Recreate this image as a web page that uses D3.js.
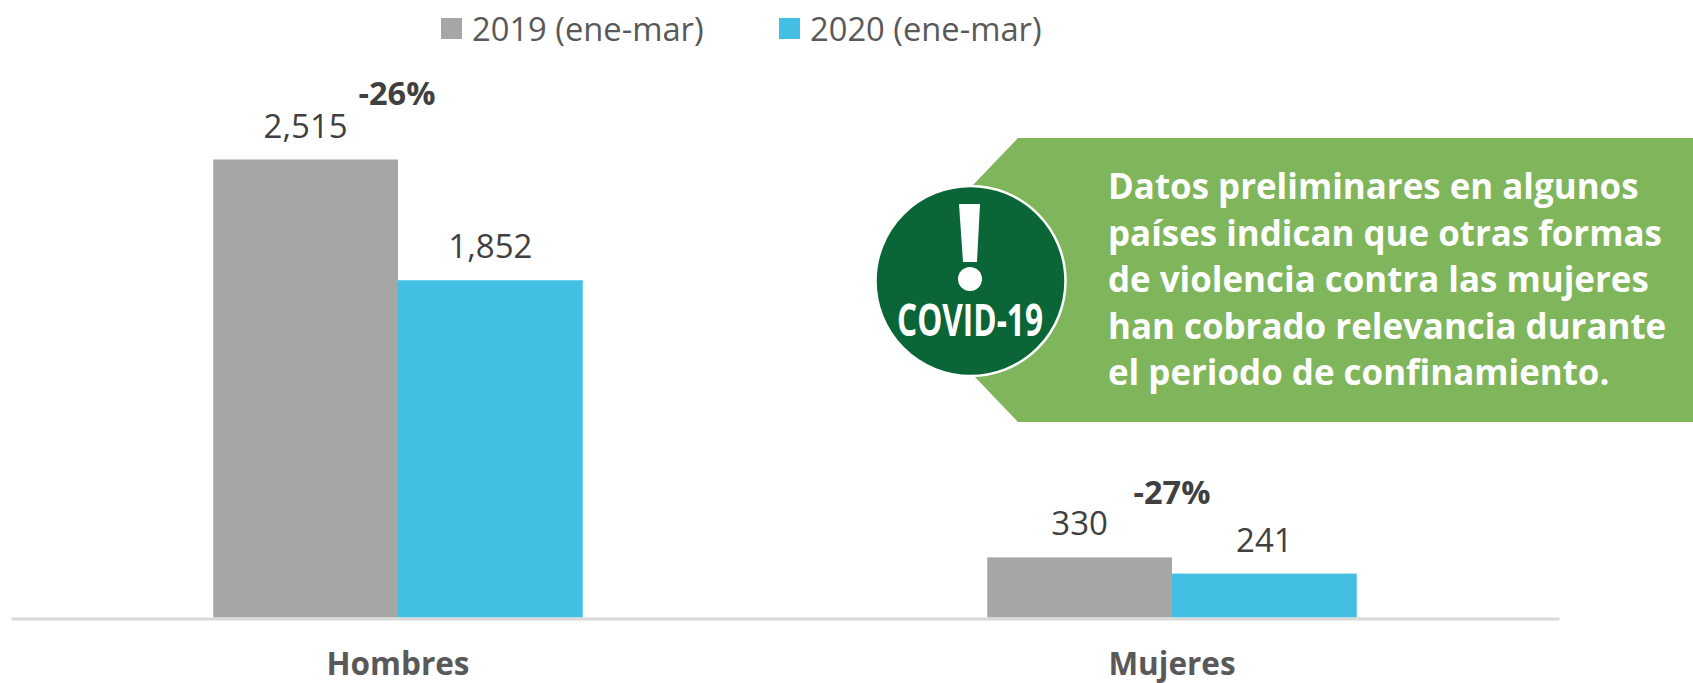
<!DOCTYPE html>
<html><head><meta charset="utf-8">
<script src="https://cdnjs.cloudflare.com/ajax/libs/d3/7.8.5/d3.min.js"></script>
<style>html,body{margin:0;padding:0;background:#fff}svg{display:block}text{font-family:"Open Sans",sans-serif}</style>
</head><body><svg id="c" width="1693" height="683"></svg>
<script>
const categories = ["Hombres","Mujeres"];
const seriesNames = ["2019 (ene-mar)","2020 (ene-mar)"];
const values2019 = [2515,330];
const values2020 = [1852,241];
const changes = ["-26%","-27%"];
const calloutLines = ["Datos preliminares en algunos","países indican que otras formas","de violencia contra las mujeres","han cobrado relevancia durante","el periodo de confinamiento."];
const colors = ["#a6a6a6","#43bfe3"];

const svg = d3.select("#c");
const x0 = d3.scaleBand().domain(categories).range([11,1559]).paddingInner(0).paddingOuter(0);
const x1 = d3.scaleBand().domain([0,1]).range([x0.bandwidth()*0.2613,x0.bandwidth()*0.7387]);
const y = d3.scaleLinear().domain([0,2515]).range([617.5,159.5]);
const series = [values2019,values2020];
const textCol = "#404040";
const fmt = d3.format(",");

// bars
series.forEach((vals,s)=>{
  svg.append("g").selectAll("rect").data(vals).join("rect")
    .attr("x",(d,i)=>x0(categories[i])+x1(s)).attr("width",x1.bandwidth())
    .attr("y",d=>y(d)).attr("height",d=>y(0)-y(d)).attr("fill",colors[s]);
  svg.append("g").selectAll("text").data(vals).join("text")
    .attr("x",(d,i)=>x0(categories[i])+x1(s)+x1.bandwidth()/2)
    .attr("y",d=>y(d)-22).attr("text-anchor","middle")
    .attr("font-size",33).attr("fill",textCol)
    .text(d=>fmt(d));
});
// axis
const axis = d3.axisBottom(x0).tickSize(0).tickPadding(34);
const ag = svg.append("g").attr("transform","translate(0,618.5)").call(axis);
ag.select(".domain").attr("stroke","#d9d9d9").attr("stroke-width",3);
ag.selectAll("text").attr("font-size",31.5).attr("font-weight",700).attr("fill","#595959").attr("font-family",'"Open Sans",sans-serif');

// change labels
svg.append("g").selectAll("text").data(changes).join("text")
  .attr("x",(d,i)=>[397,1172][i]).attr("y",(d,i)=>[105,504][i])
  .attr("text-anchor","middle").attr("font-size",32.5).attr("font-weight",700).attr("fill",textCol).text(d=>d);

// legend
const lg = svg.append("g");
seriesNames.forEach((n,i)=>{
  const lx=[441,779][i];
  lg.append("rect").attr("x",lx).attr("y",18).attr("width",21).attr("height",21).attr("fill",colors[i]);
  lg.append("text").attr("x",lx+31).attr("y",41).attr("font-size",32.7).attr("fill","#595959").text(n);
});

// callout
svg.append("path").attr("d",d3.line()([[882,280],[1018,138],[1693,138],[1693,422],[1018,422]])+"Z").attr("fill","#7fb55b");
svg.append("circle").attr("cx",970.5).attr("cy",281).attr("r",95).attr("fill","#0a6636").attr("stroke","#fff").attr("stroke-width",2.5);
svg.append("path").attr("d","M959,204L980,204L977,262L963,262Z").attr("fill","#fff");
svg.append("circle").attr("cx",970).attr("cy",279).attr("r",12).attr("fill","#fff");
svg.append("text").attr("x",897).attr("y",336).attr("font-size",45).attr("font-weight",700).attr("fill","#fff")
  .attr("textLength",146).attr("lengthAdjust","spacingAndGlyphs").text("COVID-19");
svg.append("g").selectAll("text").data(calloutLines).join("text")
  .attr("x",1108).attr("y",(d,i)=>199+i*46.5).attr("font-size",34.9).attr("font-weight",700).attr("fill","#fff").text(d=>d);
</script></body></html>
